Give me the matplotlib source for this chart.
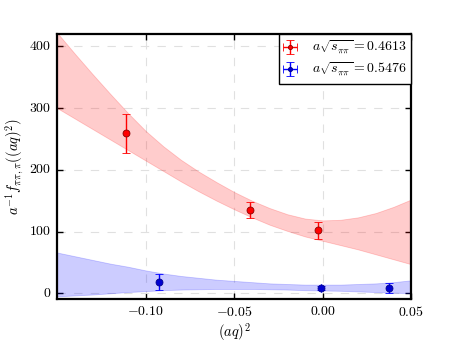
import matplotlib
matplotlib.use("Agg")
import matplotlib.pyplot as plt
from matplotlib.ticker import FuncFormatter

plt.style.use("classic")
plt.rcParams["mathtext.fontset"] = "cm"
plt.rcParams["font.family"] = "serif"
plt.rcParams["font.serif"] = ["cmr10", "DejaVu Serif"]
plt.rcParams["axes.unicode_minus"] = False

# data points
red_x = [-0.1113, -0.0411, -0.0025]
red_y = [259, 135, 102]
red_err = [32, 13, 14]

blue_x = [-0.0923, -0.0011, 0.0376]
blue_y = [18, 8.5, 8.5]
blue_err = [12.5, 3, 8]

# fit bands
band_x = [-0.15, -0.14, -0.13, -0.12, -0.11, -0.10, -0.09, -0.08, -0.07, -0.06, -0.05,
          -0.04, -0.03, -0.02, -0.01, 0.00, 0.01, 0.02, 0.03, 0.04, 0.05]
red_upper = [422, 388, 355, 323, 292, 263, 238, 216, 197, 180, 164,
             150, 138, 128, 121, 118, 119, 123, 130, 140, 152]
red_lower = [300, 283, 266, 249, 232, 215, 198, 181, 165, 150, 136,
             123, 111, 101, 92, 85, 78, 71, 63, 55, 47]
blue_upper = [66, 60, 54, 48, 43, 37, 32, 28, 25, 22, 20,
              18, 16, 15, 14, 14, 14, 15, 16, 18, 21]
blue_lower = [-5, -3.5, -2, 0, 2, 3.5, 5, 6, 6.5, 7, 7,
              7, 6.5, 6, 5, 4.5, 4, 3, 2, 1, 0]

labels = [r"$a\sqrt{s_{\pi\pi}} = 0.4613$", r"$a\sqrt{s_{\pi\pi}} = 0.5476$"]
xticks = [-0.10, -0.05, 0.00, 0.05]
yticks = [0, 100, 200, 300, 400]

fig = plt.figure(figsize=(4.57, 3.43), dpi=100, facecolor="white")
ax = fig.add_axes([0.125, 0.127, 0.775, 0.774])

ax.fill_between(band_x, red_lower, red_upper, color="red", alpha=0.2, lw=0.6)
ax.fill_between(band_x, blue_lower, blue_upper, color="blue", alpha=0.2, lw=0.6)

ax.errorbar(red_x, red_y, yerr=red_err, xerr=[0] * len(red_x), fmt="o", color="red",
            mec="#8b0000", ms=5, capsize=3, elinewidth=1, mew=0.6, label=labels[0])
ax.errorbar(blue_x, blue_y, yerr=blue_err, xerr=[0] * len(blue_x), fmt="o",
            color="#0000d0", ecolor="blue", mec="#00008b", ms=5, capsize=3,
            elinewidth=1, mew=0.6, label=labels[1])

ax.set_xlim(-0.15, 0.05)
ax.set_ylim(-10, 420)
ax.set_xticks(xticks)
ax.set_yticks(yticks)
ax.xaxis.set_major_formatter(FuncFormatter(lambda v, p: r"$%.2f$" % v))
ax.yaxis.set_major_formatter(FuncFormatter(lambda v, p: r"$%d$" % v))
ax.tick_params(labelsize=10, direction="in", length=4, width=1)
ax.tick_params(axis="x", pad=4)
ax.tick_params(axis="y", pad=4)
ax.minorticks_off()
ax.grid(True, linestyle="--", color="#e0e0e0", linewidth=0.8)
ax.set_axisbelow(True)
for s in ax.spines.values():
    s.set_linewidth(1.6)

ax.set_xlabel(r"$(aq)^2$", fontsize=10.5)
ax.xaxis.set_label_coords(0.5, -0.08)
ax.set_ylabel(r"$a^{-1}f_{\pi\pi,\pi}((aq)^2)$", fontsize=10.5)
ax.yaxis.set_label_coords(-0.09, 0.5)

leg = ax.legend(loc="upper right", numpoints=1, fontsize=10, borderaxespad=0,
                fancybox=False, handlelength=0.9, handletextpad=1.1,
                labelspacing=0.25, markerscale=0.6, borderpad=0.35)
leg.get_frame().set_edgecolor("black")
leg.get_frame().set_linewidth(1.0)

fig.savefig("out.png", dpi=100)
